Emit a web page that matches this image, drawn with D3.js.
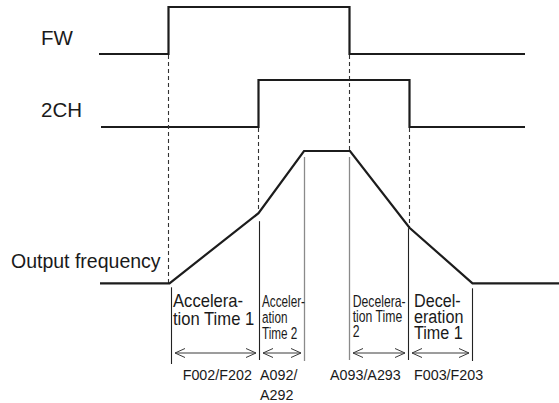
<!DOCTYPE html>
<html>
<head>
<meta charset="utf-8">
<script src="https://cdn.jsdelivr.net/npm/d3@7"></script>
<style>
  html, body { margin: 0; padding: 0; background: #fff; }
  svg { display: block; }
  text { font-family: "Liberation Sans", Arial, Helvetica, sans-serif; fill: #1a1a1a; }
</style>
</head>
<body>
<script>
// ---------------- DATA ----------------
// time axis (arbitrary units)
const signalNames = ["FW", "2CH"];
const fwPoints  = [[0, 0], [69.5, 1], [250.5, 0], [426, 0]];      // step signal (time, level)
const chPoints  = [[2, 0], [159.5, 1], [310.5, 0], [426, 0]];
const outputName = "Output frequency";
const freqPoints = [[1, 0], [70.5, 0], [159.5, 53], [205, 100], [251, 100], [310.5, 42], [373.5, 0], [460, 0]]; // % of max
// dashed guides: time, signal row whose low level it starts at, frequency it ends at
const guideTimes = [69.5, 159.5, 250.5, 310.5];
const guideRows  = ["FW", "2CH", "FW", "2CH"];
const guideFreq  = [0, 53, 100, 42];
// bracket (phase boundary) lines
const bracketTimes = [72.5, 160.5, 205.5, 250.5, 309.5, 373.5];
const bracketFreq  = [0, 53, 100, 100, 42, 0];
const bracketGray  = [false, false, true, true, false, false];
// phases: bracket index pairs, labels and parameter codes
const phaseFrom   = [0, 1, 3, 4];
const phaseTo     = [1, 2, 4, 5];
const phaseLabels = [["Accelera-", "tion Time 1"], ["Acceler-", "ation", "Time 2"], ["Decelera-", "tion Time", "2"], ["Decel-", "eration", "Time 1"]];
const phaseCodes  = [["F002/F202"], ["A092/", "A292"], ["A093/A293"], ["F003/F203"]];

// ---------------- LAYOUT ----------------
const W = 559, H = 403;
const rowY = { FW: [54, 7], "2CH": [127, 80] };   // [low, high] pixel y
const labelStyle = [
  { dx: 1.5, size: 17.5, sx: 0.95, lh: 18.5 },
  { dx: 2.5, size: 16.3, sx: 0.72, lh: 16.3 },
  { dx: 3.2, size: 16.3, sx: 0.75, lh: 15.2 },
  { dx: 5.5, size: 19,   sx: 0.85, lh: 16.2 }
];
const codeX = [182.7, 260, 330, 414];
const bracketTopGap = [4, 8, 6, 6, 0.5, 5];
const bracketBottom = [364, 360, 361, 360, 360, 361];

const svg = d3.select("body").append("svg").attr("width", W).attr("height", H);

const x = d3.scaleLinear().domain([0, 460]).range([99, 559]);
const yFreq = d3.scaleLinear().domain([0, 100]).range([283.3, 151]);
const yRow = name => d3.scaleLinear().domain([0, 1]).range(rowY[name]);

const ink = "#1c1c1c";

// signal step lines
[[signalNames[0], fwPoints], [signalNames[1], chPoints]].forEach(([name, pts]) => {
  const ys = yRow(name);
  const line = d3.line().x(d => x(d[0])).y(d => ys(d[1])).curve(d3.curveStepAfter);
  svg.append("path").attr("d", line(pts)).attr("fill", "none")
    .attr("stroke", ink).attr("stroke-width", 2.2).attr("stroke-linejoin", "miter");
});

// dashed guides
guideTimes.forEach((t, i) => {
  svg.append("line")
    .attr("x1", x(t)).attr("x2", x(t))
    .attr("y1", yRow(guideRows[i])(0) + 1).attr("y2", yFreq(guideFreq[i]))
    .attr("stroke", "#333").attr("stroke-width", 1.1).attr("stroke-dasharray", "4,3");
});

// output frequency
const fLine = d3.line().x(d => x(d[0])).y(d => yFreq(d[1]));
svg.append("path").attr("d", fLine(freqPoints)).attr("fill", "none")
  .attr("stroke", ink).attr("stroke-width", 2.2).attr("stroke-linejoin", "miter");

// bracket lines
bracketTimes.forEach((t, i) => {
  svg.append("line")
    .attr("x1", x(t)).attr("x2", x(t))
    .attr("y1", yFreq(bracketFreq[i]) + bracketTopGap[i]).attr("y2", bracketBottom[i])
    .attr("stroke", bracketGray[i] ? "#8a8a8a" : "#222")
    .attr("stroke-width", bracketGray[i] ? 1.3 : 1.1);
});

// double arrows
const arrowY = 353;
const gap = 3.5, headL = 10, headH = 4.5;
phaseFrom.forEach((f, i) => {
  const x1 = x(bracketTimes[f]) + gap, x2 = x(bracketTimes[phaseTo[i]]) - gap;
  const g = svg.append("g").attr("stroke", "#3a3a3a").attr("stroke-width", 1).attr("fill", "none");
  g.append("line").attr("x1", x1).attr("x2", x2).attr("y1", arrowY).attr("y2", arrowY);
  g.append("polyline").attr("points", `${x1 + headL},${arrowY - headH} ${x1},${arrowY} ${x1 + headL},${arrowY + headH}`);
  g.append("polyline").attr("points", `${x2 - headL},${arrowY - headH} ${x2},${arrowY} ${x2 - headL},${arrowY + headH}`);
});

// phase labels
phaseLabels.forEach((lines, i) => {
  const st = labelStyle[i];
  const bx = x(bracketTimes[phaseFrom[i]]) + st.dx;
  const t = svg.append("text")
    .attr("transform", `translate(${bx},306.5) scale(${st.sx},1)`)
    .style("font-size", st.size + "px");
  lines.forEach((s, j) => t.append("tspan").attr("x", 0).attr("y", j * st.lh).text(s));
});

// parameter codes
phaseCodes.forEach((lines, i) => {
  const t = svg.append("text").style("font-size", "14.3px");
  lines.forEach((s, j) => t.append("tspan").attr("x", codeX[i]).attr("y", 379.5 + j * 20.3).text(s));
});

// row titles
svg.append("text").attr("x", 41).attr("y", 45).style("font-size", "20.5px").text(signalNames[0]);
svg.append("text").attr("x", 41).attr("y", 117.3).style("font-size", "20.5px").text(signalNames[1]);
svg.append("text").attr("x", 11).attr("y", 267.5).style("font-size", "19.5px").text(outputName);
</script>
</body>
</html>
